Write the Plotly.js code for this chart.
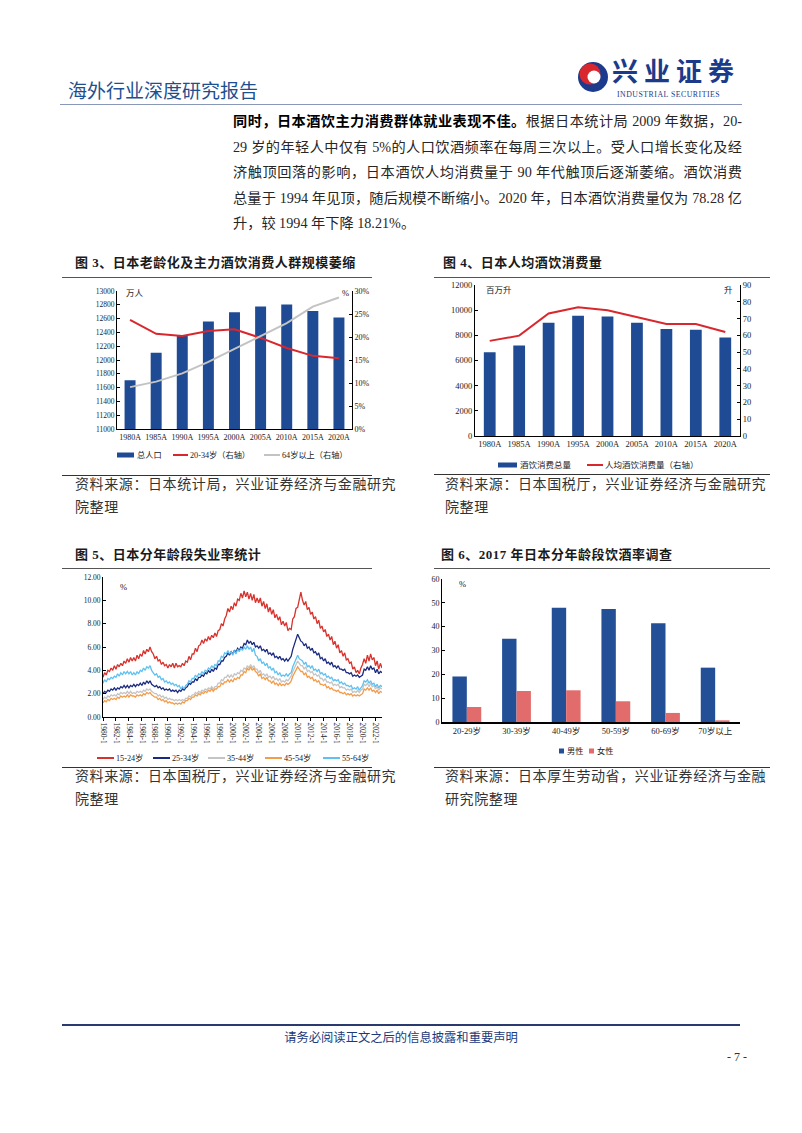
<!DOCTYPE html>
<html lang="zh-CN">
<head>
<meta charset="utf-8">
<script src="https://cdn.plot.ly/plotly-3.0.1.min.js"></script>
<style>
html,body{margin:0;padding:0;background:#fff;}
body{width:802px;height:1133px;position:relative;overflow:hidden;font-family:'Liberation Serif','Noto Sans CJK SC',serif;color:#222;}
.t{position:absolute;white-space:nowrap;line-height:1;transform:translateY(-50%);}
.p{position:absolute;left:233px;width:509px;line-height:1;transform:translateY(-50%);font-size:14.2px;color:#262626;text-align:justify;text-align-last:justify;text-justify:inter-character;}
.hl{position:absolute;height:0;}
.chart{position:absolute;}
.ttl{font-size:13px;font-weight:bold;letter-spacing:0.5px;color:#1a1a1a;font-family:'Liberation Serif','Noto Sans CJK SC',serif;}
.src{font-size:14px;letter-spacing:0.6px;color:#333;}
</style>
</head>
<body>
<!-- header -->
<div class="t" style="left:68px;top:89px;font-size:19px;color:#1e4f8f;font-family:'Noto Sans CJK SC';">海外行业深度研究报告</div>
<svg style="position:absolute;left:576px;top:60px" width="34" height="34" viewBox="0 0 34 34">
  <circle cx="17" cy="17" r="15" fill="#1d3b8c"/>
  <circle cx="14" cy="14" r="10.5" fill="#d9272e"/>
  <circle cx="18" cy="17" r="6.5" fill="#fff"/>
</svg>
<div class="t" style="left:612px;top:70px;font-size:26px;font-weight:bold;letter-spacing:6px;color:#1c3a8a;font-family:'Noto Sans CJK SC';">兴业证券</div>
<div class="t" style="left:617px;top:94.5px;font-size:7.8px;letter-spacing:0.5px;color:#1c3a8a;">INDUSTRIAL SECURITIES</div>
<div class="hl" style="left:60px;top:104px;width:682px;border-top:1px solid #8a98b8;"></div>

<!-- paragraph -->
<div class="p" style="top:121px;"><b style="color:#000">同时，日本酒饮主力消费群体就业表现不佳。</b>根据日本统计局 2009 年数据，20-</div>
<div class="p" style="top:146.5px;">29 岁的年轻人中仅有 5%的人口饮酒频率在每周三次以上。受人口增长变化及经</div>
<div class="p" style="top:172px;">济触顶回落的影响，日本酒饮人均消费量于 90 年代触顶后逐渐萎缩。酒饮消费</div>
<div class="p" style="top:197.5px;">总量于 1994 年见顶，随后规模不断缩小。2020 年，日本酒饮消费量仅为 78.28 亿</div>
<div class="p" style="top:223px;text-align-last:left;width:auto;">升，较 1994 年下降 18.21%。</div>

<!-- chart titles -->
<div class="t ttl" style="left:75px;top:262px;">图 3、日本老龄化及主力酒饮消费人群规模萎缩</div>
<div class="hl" style="left:62px;top:277px;width:310px;border-top:1px solid #555;"></div>
<div class="t ttl" style="left:443px;top:262px;">图 4、日本人均酒饮消费量</div>
<div class="hl" style="left:434px;top:277px;width:336px;border-top:1px solid #555;"></div>

<div class="t ttl" style="left:75px;top:554px;">图 5、日本分年龄段失业率统计</div>
<div class="hl" style="left:62px;top:568px;width:310px;border-top:1px solid #555;"></div>
<div class="t ttl" style="left:441px;top:554px;">图 6、2017 年日本分年龄段饮酒率调查</div>
<div class="hl" style="left:434px;top:568px;width:336px;border-top:1px solid #555;"></div>

<!-- charts -->
<div id="c3" class="chart"></div>
<div id="c4" class="chart"></div>
<div id="c5" class="chart"></div>
<div id="c6" class="chart"></div>

<!-- sources -->
<div class="hl" style="left:62px;top:475px;width:310px;border-top:1px solid #333;"></div>
<div class="t src" style="left:75px;top:485px;">资料来源：日本统计局，兴业证券经济与金融研究</div>
<div class="t src" style="left:75px;top:508px;">院整理</div>
<div class="hl" style="left:434px;top:474px;width:336px;border-top:1px solid #333;"></div>
<div class="t src" style="left:445px;top:485px;">资料来源：日本国税厅，兴业证券经济与金融研究</div>
<div class="t src" style="left:445px;top:508px;">院整理</div>

<div class="hl" style="left:62px;top:767px;width:310px;border-top:1px solid #333;"></div>
<div class="t src" style="left:75px;top:777px;">资料来源：日本国税厅，兴业证券经济与金融研究</div>
<div class="t src" style="left:75px;top:800px;">院整理</div>
<div class="hl" style="left:434px;top:767px;width:336px;border-top:1px solid #333;"></div>
<div class="t src" style="left:445px;top:777px;">资料来源：日本厚生劳动省，兴业证券经济与金融</div>
<div class="t src" style="left:445px;top:800px;">研究院整理</div>

<!-- footer -->
<div class="hl" style="left:62px;top:1024px;width:678px;border-top:2px solid #2a3a6e;"></div>
<div class="t" style="left:401px;top:1037px;transform:translate(-50%,-50%);font-size:12.3px;color:#1c3a7a;font-family:'Noto Sans CJK SC';">请务必阅读正文之后的信息披露和重要声明</div>
<div class="t" style="left:727px;top:1057px;font-size:12px;color:#333;">- 7 -</div>

<script>
// ---------------- DATA ----------------
// Figure 3
const fig3Years = ['1980A','1985A','1990A','1995A','2000A','2005A','2010A','2015A','2020A'];
const fig3Population = [11706, 12105, 12361, 12557, 12693, 12777, 12806, 12709, 12615]; // 万人
const fig3Share2034 = [23.7, 20.7, 20.2, 21.3, 21.7, 19.8, 17.6, 15.9, 15.4];        // %
const fig3Share64 = [9.1, 10.3, 12.1, 14.6, 17.4, 20.2, 23.0, 26.6, 28.6];           // %

// Figure 4
const fig4Years = ['1980A','1985A','1990A','1995A','2000A','2005A','2010A','2015A','2020A'];
const fig4Total = [6650, 7200, 9000, 9550, 9500, 9000, 8500, 8450, 7830];   // 百万升
const fig4PerCapita = [56.7, 59.8, 73.0, 76.7, 75.0, 71.0, 66.7, 66.7, 62.0]; // 升

// Figure 5 (quarterly readings, 1980Q1 .. 2023Q1)
const u15_24 = [
3.4,3.8,3.6,4.0, 3.9,4.2,4.0,4.4, 4.1,4.5,4.3,4.6, 4.4,4.8,4.6,5.0, 4.7,5.1,4.8,5.1,
4.8,5.3,5.0,5.4, 5.2,5.7,5.4,5.8, 5.6,6.0,5.6,5.4, 5.0,5.2,4.8,4.9, 4.5,4.7,4.4,4.5,
4.2,4.5,4.3,4.6, 4.2,4.6,4.3,4.4, 4.3,4.6,4.4,4.8, 4.7,5.2,4.9,5.4, 5.4,5.9,5.6,6.1,
6.2,6.6,6.3,6.7, 6.5,6.9,6.6,7.0, 6.8,7.2,6.9,7.4, 7.5,8.0,7.8,8.4, 8.7,9.3,9.0,9.5,
9.2,9.8,9.5,10.1, 10.0,10.6,10.2,10.8, 10.3,10.7,10.1,10.6, 10.0,10.5,9.8,10.2, 9.8,10.2,9.5,9.9,
9.3,9.7,9.0,9.4, 8.8,9.2,8.5,8.8, 8.3,8.6,7.9,8.2, 7.8,8.1,7.4,7.6, 7.5,8.4,8.6,9.3,
9.4,10.1,10.7,10.0, 9.6,9.9,9.2,9.4, 8.8,9.0,8.4,8.6, 8.0,8.3,7.6,7.8, 7.3,7.5,6.9,7.1,
6.6,6.9,6.2,6.5, 5.9,6.2,5.5,5.7, 5.2,5.5,4.9,5.0, 4.6,4.7,4.1,4.3, 3.8,4.0,3.7,4.2,
4.5,5.0,4.6,5.3, 4.8,5.4,4.9,5.1, 4.4,4.8,4.1,4.6, 4.2];
const u25_34 = [
2.0,2.2,2.1,2.3, 2.2,2.4,2.3,2.5, 2.3,2.5,2.4,2.6, 2.5,2.7,2.5,2.7, 2.5,2.7,2.6,2.8,
2.6,2.8,2.7,2.9, 2.7,3.0,2.8,3.1, 2.9,3.1,2.8,2.7, 2.6,2.7,2.5,2.6, 2.4,2.5,2.3,2.4,
2.3,2.4,2.2,2.3, 2.2,2.3,2.1,2.3, 2.2,2.4,2.3,2.5, 2.6,2.9,2.8,3.0, 3.0,3.3,3.1,3.4,
3.4,3.6,3.5,3.8, 3.7,4.0,3.8,4.1, 3.9,4.2,4.1,4.5, 4.5,4.8,4.8,5.1, 5.2,5.5,5.3,5.6,
5.4,5.7,5.6,5.9, 5.7,6.0,5.9,6.3, 6.2,6.6,6.3,6.5, 6.2,6.4,6.0,6.1, 5.9,6.1,5.7,5.8,
5.6,5.8,5.4,5.5, 5.3,5.5,5.1,5.2, 5.0,5.2,4.9,5.0, 4.8,5.0,4.8,5.0, 5.2,5.8,6.2,6.6,
7.1,6.8,6.5,6.4, 6.1,6.3,5.9,6.0, 5.7,5.9,5.5,5.6, 5.3,5.5,5.0,5.1, 4.8,5.0,4.6,4.7,
4.5,4.7,4.3,4.4, 4.2,4.4,4.1,4.1, 4.0,4.1,3.8,3.8, 3.7,3.8,3.5,3.6, 3.5,3.6,3.4,3.5,
3.6,4.1,4.0,4.3, 4.0,4.4,4.1,4.2, 3.8,4.1,3.7,3.9, 3.8];
const u35_44 = [
1.5,1.7,1.6,1.8, 1.7,1.9,1.8,1.9, 1.8,2.0,1.9,2.1, 2.0,2.1,2.0,2.2, 2.0,2.2,2.0,2.1,
2.0,2.2,2.1,2.2, 2.1,2.3,2.2,2.4, 2.3,2.4,2.2,2.1, 2.0,2.0,1.8,1.9, 1.7,1.8,1.6,1.7,
1.5,1.6,1.5,1.5, 1.4,1.5,1.4,1.5, 1.4,1.5,1.4,1.6, 1.6,1.8,1.7,1.9, 1.9,2.1,2.0,2.2,
2.1,2.3,2.2,2.4, 2.3,2.5,2.4,2.6, 2.4,2.6,2.6,2.9, 2.9,3.2,3.1,3.4, 3.4,3.6,3.4,3.6,
3.4,3.7,3.6,3.8, 3.7,4.0,3.9,4.2, 4.1,4.4,4.2,4.5, 4.2,4.4,4.1,4.1, 3.8,4.0,3.6,3.7,
3.5,3.7,3.4,3.5, 3.3,3.5,3.2,3.3, 3.1,3.3,3.0,3.1, 3.0,3.2,3.1,3.3, 3.5,3.9,4.2,4.5,
4.8,4.6,4.4,4.4, 4.1,4.3,3.9,4.0, 3.8,3.9,3.6,3.7, 3.5,3.6,3.3,3.3, 3.1,3.3,3.0,3.0,
2.9,3.0,2.7,2.8, 2.7,2.8,2.5,2.6, 2.5,2.5,2.3,2.4, 2.3,2.4,2.1,2.2, 2.1,2.3,2.1,2.3,
2.4,2.8,2.7,2.9, 2.6,2.9,2.6,2.7, 2.4,2.6,2.3,2.5, 2.4];
const u45_54 = [
1.2,1.4,1.3,1.5, 1.4,1.6,1.5,1.6, 1.5,1.7,1.6,1.8, 1.7,1.8,1.7,1.9, 1.7,1.9,1.8,1.8,
1.7,1.9,1.8,1.9, 1.8,2.0,1.9,2.1, 2.0,2.1,1.9,1.8, 1.7,1.7,1.5,1.6, 1.4,1.5,1.3,1.4,
1.2,1.3,1.2,1.2, 1.1,1.2,1.1,1.2, 1.1,1.3,1.2,1.4, 1.4,1.6,1.5,1.7, 1.7,1.9,1.8,2.0,
1.9,2.1,2.0,2.2, 2.1,2.3,2.2,2.4, 2.2,2.4,2.4,2.6, 2.6,2.9,2.8,3.0, 3.0,3.2,3.0,3.2,
3.0,3.3,3.2,3.4, 3.3,3.6,3.6,3.9, 3.8,4.2,4.0,4.3, 4.0,4.2,3.9,3.8, 3.5,3.7,3.3,3.4,
3.2,3.4,3.1,3.1, 2.9,3.1,2.8,2.9, 2.7,2.9,2.7,2.8, 2.7,2.9,2.8,2.9, 3.1,3.5,3.8,4.0,
4.3,4.1,3.9,3.9, 3.6,3.8,3.4,3.5, 3.3,3.4,3.1,3.2, 3.0,3.1,2.8,2.8, 2.7,2.8,2.5,2.6,
2.4,2.5,2.3,2.3, 2.2,2.3,2.1,2.1, 2.0,2.1,1.9,2.0, 1.9,2.0,1.8,1.9, 1.8,1.9,1.8,1.9,
2.0,2.4,2.3,2.5, 2.3,2.5,2.2,2.3, 2.1,2.3,2.0,2.2, 2.1];
const u55_64 = [
2.9,3.2,3.0,3.3, 3.2,3.4,3.3,3.5, 3.4,3.7,3.5,3.8, 3.6,3.9,3.7,3.9, 3.7,3.9,3.6,3.8,
3.6,3.9,3.7,4.0, 3.9,4.2,4.0,4.3, 4.2,4.4,4.0,3.8, 3.6,3.7,3.4,3.5, 3.2,3.3,3.0,3.1,
2.9,3.0,2.8,2.9, 2.7,2.8,2.6,2.7, 2.4,2.6,2.4,2.7, 2.8,3.1,3.0,3.3, 3.3,3.6,3.4,3.7,
3.6,3.9,3.7,4.0, 3.9,4.2,4.1,4.4, 4.2,4.5,4.4,4.8, 4.8,5.2,5.1,5.5, 5.4,5.7,5.4,5.6,
5.3,5.7,5.4,5.8, 5.6,5.9,5.7,6.0, 5.8,6.1,5.8,6.0, 5.6,5.9,5.3,5.2, 4.8,5.0,4.6,4.7,
4.4,4.6,4.2,4.3, 4.0,4.2,3.8,3.9, 3.6,3.8,3.5,3.6, 3.5,3.7,3.5,3.7, 3.8,4.3,4.6,4.9,
5.3,5.0,4.9,4.8, 4.5,4.7,4.3,4.4, 4.2,4.4,4.0,4.1, 3.9,4.1,3.7,3.8, 3.6,3.7,3.4,3.5,
3.3,3.4,3.1,3.2, 3.1,3.2,2.9,3.0, 2.8,2.9,2.7,2.7, 2.6,2.7,2.4,2.5, 2.4,2.6,2.3,2.5,
2.7,3.1,3.0,3.2, 2.9,3.1,2.8,2.9, 2.6,2.8,2.5,2.7, 2.6];
const fig5StartYear = 1980;
const fig5QuarterMonths = ['01','04','07','10'];
const fig5Names = ['15-24岁','25-34岁','35-44岁','45-54岁','55-64岁'];

// Figure 6
const fig6Ages = ['20-29岁','30-39岁','40-49岁','50-59岁','60-69岁','70岁以上'];
const fig6Male = [19.1, 34.9, 47.9, 47.4, 41.4, 22.8];
const fig6Female = [6.3, 13.0, 13.3, 8.7, 3.8, 0.7];

// ---------------- HELPERS ----------------
const FONT = "'Liberation Serif','Noto Sans CJK SC',serif";
const BLUE = '#1f4a94', RED = '#d9272e', GRAY = '#c3c3c3';
const CFG = {displayModeBar:false, staticPlot:true};

function frame(box, m){
  const pl = box.left + m.l, pt = box.top + m.t;
  const pw = box.w - m.l - m.r, ph = box.h - m.t - m.b;
  return {px: X => (X - pl) / pw, py: Y => 1 - (Y - pt) / ph};
}
function place(id, box){
  const d = document.getElementById(id);
  d.style.left = box.left + 'px'; d.style.top = box.top + 'px';
  d.style.width = box.w + 'px'; d.style.height = box.h + 'px';
  return d;
}
function swRect(f, x0, x1, yc, h, color){
  return {type:'rect', xref:'paper', yref:'paper', x0:f.px(x0), x1:f.px(x1),
          y0:f.py(yc + h/2), y1:f.py(yc - h/2), fillcolor:color, line:{width:0}};
}
function swLine(f, x0, x1, yc, color, w){
  return {type:'line', xref:'paper', yref:'paper', x0:f.px(x0), x1:f.px(x1),
          y0:f.py(yc), y1:f.py(yc), line:{color:color, width:w || 2}};
}
function lab(f, x, yc, text, size, extra){
  return Object.assign({xref:'paper', yref:'paper', x:f.px(x), y:f.py(yc), xanchor:'left', yanchor:'middle',
    showarrow:false, text:text, borderpad:0, font:{family:FONT, size:size || 8.5, color:'#222'}}, extra || {});
}
function ax(extra){
  return Object.assign({showline:true, linecolor:'#000', linewidth:1, showgrid:false, zeroline:false,
    ticks:'inside', ticklen:3, tickcolor:'#000', tickfont:{family:FONT, size:8, color:'#222'}, fixedrange:true}, extra);
}

// ---------------- FIGURE 3 ----------------
(function(){
  const box = {left:62, top:280, w:312, h:190};
  const m = {l:55, r:22, t:11, b:41};
  const f = frame(box, m);
  const d = place('c3', box);
  const traces = [
    {type:'bar', x:fig3Years, y:fig3Population, marker:{color:BLUE}, name:'总人口'},
    {type:'scatter', mode:'lines', x:fig3Years, y:fig3Share2034.map(v => v/100), yaxis:'y2',
     line:{color:RED, width:2}, name:'20-34岁（右轴）'},
    {type:'scatter', mode:'lines', x:fig3Years, y:fig3Share64.map(v => v/100), yaxis:'y2',
     line:{color:GRAY, width:2}, name:'64岁以上（右轴）'}
  ];
  const layout = {
    width:box.w, height:box.h, margin:m, paper_bgcolor:'#fff', plot_bgcolor:'#fff',
    showlegend:false, bargap:0.58, font:{family:FONT},
    xaxis:ax({type:'category', ticks:'', range:[-0.5, 8.5], tickfont:{family:FONT, size:8, color:'#222'}}),
    yaxis:ax({range:[11000, 13000], dtick:200, tick0:11000, tickformat:'d', tickfont:{family:FONT, size:7.5, color:'#222'}}),
    yaxis2:ax({overlaying:'y', side:'right', range:[0, 0.30], dtick:0.05, tickformat:'.0%'}),
    shapes:[
      swRect(f, 117, 134, 455, 5, BLUE),
      swLine(f, 173, 188, 455, RED, 2),
      swLine(f, 264, 280, 455, GRAY, 2)
    ],
    annotations:[
      lab(f, 125, 293, '万人', 8.5),
      lab(f, 341, 293, '%', 8.5),
      lab(f, 136, 455, '总人口', 8.2),
      lab(f, 189, 455, '20-34岁（右轴）', 8.2),
      lab(f, 281, 455, '64岁以上（右轴）', 8.2)
    ]
  };
  Plotly.newPlot(d, traces, layout, CFG);
})();

// ---------------- FIGURE 4 ----------------
(function(){
  const box = {left:434, top:278, w:336, h:195};
  const m = {l:41, r:30, t:7, b:37};
  const f = frame(box, m);
  const d = place('c4', box);
  const traces = [
    {type:'bar', x:fig4Years, y:fig4Total, marker:{color:BLUE}, name:'酒饮消费总量'},
    {type:'scatter', mode:'lines', x:fig4Years, y:fig4PerCapita, yaxis:'y2',
     line:{color:RED, width:2}, name:'人均酒饮消费量（右轴）'}
  ];
  const layout = {
    width:box.w, height:box.h, margin:m, paper_bgcolor:'#fff', plot_bgcolor:'#fff',
    showlegend:false, bargap:0.6, font:{family:FONT},
    xaxis:ax({type:'category', ticks:'', range:[-0.5, 8.5], tickfont:{family:FONT, size:8.5, color:'#222'}}),
    yaxis:ax({range:[0, 12000], dtick:2000, tickformat:'d', tickfont:{family:FONT, size:8.5, color:'#222'}}),
    yaxis2:ax({overlaying:'y', side:'right', range:[0, 90], dtick:10, tickfont:{family:FONT, size:8.5, color:'#222'}}),
    shapes:[
      swRect(f, 498, 517, 465, 5, BLUE),
      swLine(f, 587, 603, 465, RED, 2)
    ],
    annotations:[
      lab(f, 485, 290, '百万升', 8.5),
      lab(f, 723, 290, '升', 8.5),
      lab(f, 519, 465, '酒饮消费总量', 8.5),
      lab(f, 604, 465, '人均酒饮消费量（右轴）', 8.5)
    ]
  };
  Plotly.newPlot(d, traces, layout, CFG);
})();

// ---------------- FIGURE 5 ----------------
(function(){
  const box = {left:62, top:572, w:330, h:192};
  const m = {l:41, r:10, t:5, b:47};
  const f = frame(box, m);
  const d = place('c5', box);
  const dates = u15_24.map((_, i) =>
    (fig5StartYear + Math.floor(i / 4)) + '-' + fig5QuarterMonths[i % 4] + '-01');
  const series = [u15_24, u25_34, u35_44, u45_54, u55_64];
  const colors = ['#d8322c', '#1b2a80', '#c4c4c4', '#f39c4a', '#5ec1ef'];
  const traces = series.map((s, k) => ({
    type:'scatter', mode:'lines', x:dates, y:s, name:fig5Names[k],
    line:{color:colors[k], width:1.3}
  }));
  const legX = [97, 153, 208, 265, 323];
  const shapes = [], anns = [lab(f, 119, 587, '%', 8.5)];
  legX.forEach((x, k) => {
    shapes.push(swLine(f, x, x + 17, 758, colors[k], 2));
    anns.push(lab(f, x + 18, 758, fig5Names[k], 8.2));
  });
  const layout = {
    width:box.w, height:box.h, margin:m, paper_bgcolor:'#fff', plot_bgcolor:'#fff',
    showlegend:false, font:{family:FONT},
    xaxis:ax({type:'date', range:['1980-01-01', '2023-01-01'], tick0:'1980-01-01', dtick:'M24',
      tickformat:'%Y-%-m', tickangle:90, ticks:'outside', ticklen:3,
      tickfont:{family:FONT, size:7.5, color:'#222'}}),
    yaxis:ax({range:[0, 12], dtick:2, tickformat:'.2f', tickfont:{family:FONT, size:7.5, color:'#222'}}),
    shapes:shapes, annotations:anns
  };
  Plotly.newPlot(d, traces, layout, CFG);
})();

// ---------------- FIGURE 6 ----------------
(function(){
  const box = {left:420, top:572, w:350, h:192};
  const m = {l:22, r:30, t:7, b:42};
  const f = frame(box, m);
  const d = place('c6', box);
  const MALE = '#234f97', FEMALE = '#e26b6b';
  const traces = [
    {type:'bar', x:fig6Ages, y:fig6Male, name:'男性', marker:{color:MALE}},
    {type:'bar', x:fig6Ages, y:fig6Female, name:'女性', marker:{color:FEMALE}}
  ];
  const layout = {
    width:box.w, height:box.h, margin:m, paper_bgcolor:'#fff', plot_bgcolor:'#fff',
    showlegend:false, barmode:'group', bargap:0.42, bargroupgap:0, font:{family:FONT},
    xaxis:ax({type:'category', ticks:'', linewidth:1.5, tickfont:{family:FONT, size:8.5, color:'#222'}}),
    yaxis:ax({range:[0, 60], dtick:10, tickfont:{family:FONT, size:8, color:'#222'}}),
    shapes:[
      swRect(f, 559, 564, 751, 5, MALE),
      swRect(f, 589, 594, 751, 5, FEMALE)
    ],
    annotations:[
      lab(f, 458, 584, '%', 8.5),
      lab(f, 566, 751, '男性', 8.2),
      lab(f, 596, 751, '女性', 8.2)
    ]
  };
  Plotly.newPlot(d, traces, layout, CFG);
})();
</script>
</body>
</html>
